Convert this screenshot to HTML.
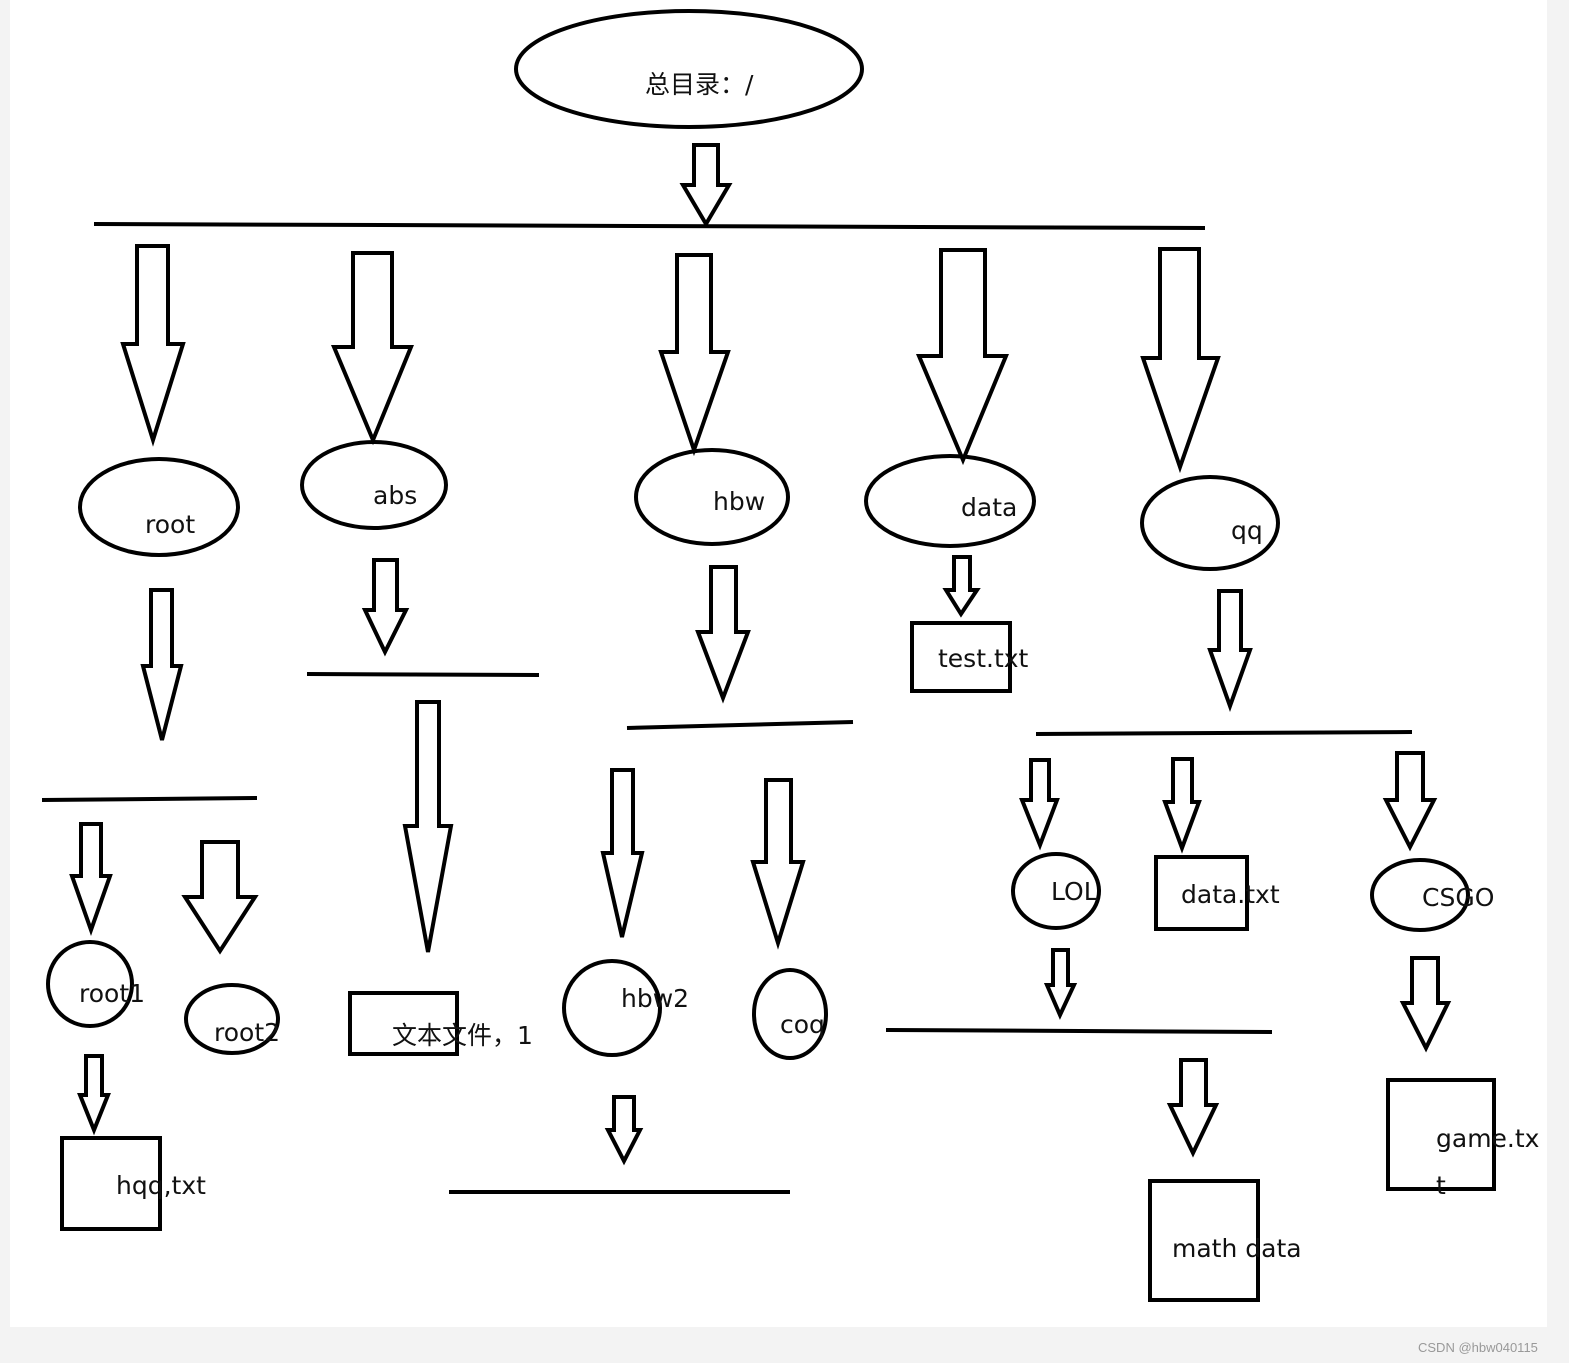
<!DOCTYPE html>
<html><head><meta charset="utf-8"><style>
html,body{margin:0;padding:0;background:#f3f3f3;}
svg{display:block;}
text{font-family:"DejaVu Sans","Noto Sans CJK SC",sans-serif;font-size:25px;fill:#111;}
</style></head><body>
<svg width="1569" height="1363" viewBox="0 0 1569 1363" xmlns="http://www.w3.org/2000/svg">
<rect x="10" y="0" width="1537" height="1327" fill="#fff"/>
<g fill="none" stroke="#000" stroke-width="4" stroke-linejoin="miter">
<ellipse cx="689" cy="69" rx="173" ry="58"/>
<ellipse cx="159" cy="507" rx="79" ry="48"/>
<ellipse cx="374" cy="485" rx="72" ry="43"/>
<ellipse cx="712" cy="497" rx="76" ry="47"/>
<ellipse cx="950" cy="501" rx="84" ry="45"/>
<ellipse cx="1210" cy="523" rx="68" ry="46"/>
<ellipse cx="90" cy="984" rx="42" ry="42"/>
<ellipse cx="232" cy="1019" rx="46" ry="34"/>
<ellipse cx="612" cy="1008" rx="48" ry="47"/>
<ellipse cx="790" cy="1014" rx="36" ry="44"/>
<ellipse cx="1056" cy="891" rx="43" ry="37"/>
<ellipse cx="1420" cy="895" rx="48" ry="35"/>
<rect x="62" y="1138" width="98" height="91"/>
<rect x="350" y="993" width="107" height="61"/>
<rect x="912" y="623" width="98" height="68"/>
<rect x="1156" y="857" width="91" height="72"/>
<rect x="1150" y="1181" width="108" height="119"/>
<rect x="1388" y="1080" width="106" height="109"/>
<line x1="94" y1="224" x2="1205" y2="228"/>
<line x1="42" y1="800" x2="257" y2="798"/>
<line x1="307" y1="674" x2="539" y2="675"/>
<line x1="627" y1="728" x2="853" y2="722"/>
<line x1="449" y1="1192" x2="790" y2="1192"/>
<line x1="1036" y1="734" x2="1412" y2="732"/>
<line x1="886" y1="1030" x2="1272" y2="1032"/>
<polygon points="694,145 718,145 718,185 729,185 706,224 683,185 694,185"/>
<polygon points="137,246 168,246 168,344 183,344 153,440 123,344 137,344"/>
<polygon points="353,253 392,253 392,347 411,347 373,440 334,347 353,347"/>
<polygon points="677,255 711,255 711,352 728,352 694,450 661,352 677,352"/>
<polygon points="941,250 985,250 985,356 1006,356 963,460 919,356 941,356"/>
<polygon points="1160,249 1199,249 1199,358 1218,358 1180,467 1143,358 1160,358"/>
<polygon points="151,590 172,590 172,666 181,666 162,740 143,666 151,666"/>
<polygon points="81,824 101,824 101,876 110,876 91,930 72,876 81,876"/>
<polygon points="202,842 238,842 238,897 255,897 220,951 185,897 202,897"/>
<polygon points="86,1056 102,1056 102,1095 108,1095 94,1130 80,1095 86,1095"/>
<polygon points="374,560 397,560 397,610 406,610 385,652 365,610 374,610"/>
<polygon points="417,702 439,702 439,826 451,826 428,952 405,826 417,826"/>
<polygon points="711,567 736,567 736,632 748,632 723,698 698,632 711,632"/>
<polygon points="612,770 633,770 633,853 642,853 622,937 603,853 612,853"/>
<polygon points="766,780 791,780 791,862 803,862 778,943 753,862 766,862"/>
<polygon points="614,1097 634,1097 634,1130 640,1130 624,1161 608,1130 614,1130"/>
<polygon points="954,557 970,557 970,590 977,590 961,614 946,590 954,590"/>
<polygon points="1219,591 1241,591 1241,650 1250,650 1230,706 1210,650 1219,650"/>
<polygon points="1031,760 1049,760 1049,800 1057,800 1040,845 1022,800 1031,800"/>
<polygon points="1173,759 1192,759 1192,802 1199,802 1182,848 1165,802 1173,802"/>
<polygon points="1397,753 1423,753 1423,800 1434,800 1410,847 1386,800 1397,800"/>
<polygon points="1053,950 1068,950 1068,985 1074,985 1060,1015 1047,985 1053,985"/>
<polygon points="1181,1060 1206,1060 1206,1105 1216,1105 1193,1153 1170,1105 1181,1105"/>
<polygon points="1412,958 1438,958 1438,1003 1448,1003 1426,1048 1403,1003 1412,1003"/>
</g>
<text x="645" y="93">总目录：/</text>
<text x="145" y="533">root</text>
<text x="373" y="504">abs</text>
<text x="713" y="510">hbw</text>
<text x="961" y="516">data</text>
<text x="1231" y="539">qq</text>
<text x="79" y="1002">root1</text>
<text x="214" y="1041">root2</text>
<text x="116" y="1194">hqq,txt</text>
<text x="392" y="1044">文本文件，1</text>
<text x="621" y="1007">hbw2</text>
<text x="780" y="1033">coq</text>
<text x="938" y="667">test.txt</text>
<text x="1051" y="900">LOL</text>
<text x="1181" y="903">data.txt</text>
<text x="1422" y="906">CSGO</text>
<text x="1172" y="1257">math data</text>
<text x="1436" y="1147">game.tx</text>
<text x="1436" y="1194">t</text>
<text x="1418" y="1352" style="font-size:13px;fill:#999;font-family:'Liberation Sans',sans-serif">CSDN @hbw040115</text>
</svg>
</body></html>
